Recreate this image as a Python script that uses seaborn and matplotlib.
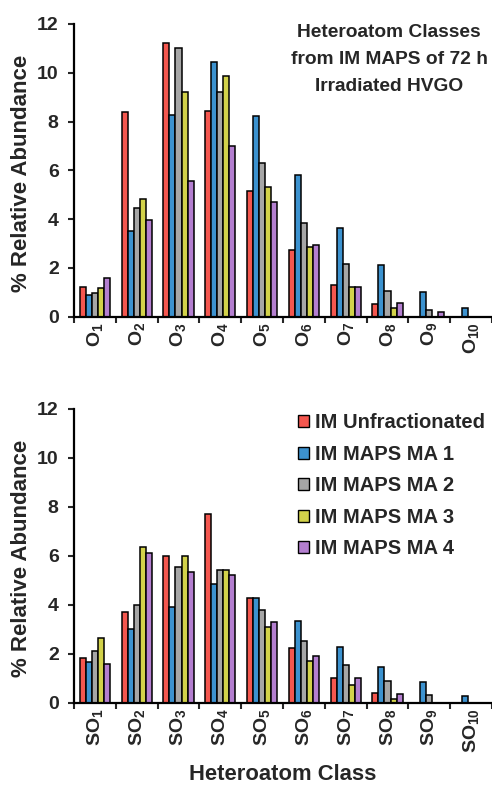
import numpy as np
import pandas as pd
import matplotlib
matplotlib.use("Agg")
import matplotlib.pyplot as plt
import seaborn as sns

# ---------------- data ----------------
series = ["IM Unfractionated", "IM MAPS MA 1", "IM MAPS MA 2", "IM MAPS MA 3", "IM MAPS MA 4"]
colors = ["#F4574F", "#3C92CF", "#A6A6A6", "#D2D24A", "#B47FD0"]

o_classes = [f"O{i}" for i in range(1, 11)]
o_labels = [r"O$_{\mathrm{%d}}$" % i for i in range(1, 11)]
o_unfrac = [1.19, 8.37, 11.24, 8.44, 5.16, 2.74, 1.28, 0.50, np.nan, np.nan]
o_ma1 = [0.90, 3.52, 8.26, 10.43, 8.22, 5.82, 3.64, 2.11, 1.02, 0.34]
o_ma2 = [0.97, 4.46, 11.02, 9.21, 6.28, 3.82, 2.17, 1.03, 0.28, np.nan]
o_ma3 = [1.17, 4.83, 9.21, 9.85, 5.32, 2.87, 1.20, 0.34, np.nan, np.nan]
o_ma4 = [1.56, 3.96, 5.54, 7.00, 4.69, 2.94, 1.19, 0.54, 0.18, np.nan]

so_classes = [f"SO{i}" for i in range(1, 11)]
so_labels = [r"SO$_{\mathrm{%d}}$" % i for i in range(1, 11)]
so_unfrac = [1.81, 3.69, 5.97, 7.71, 4.26, 2.22, 1.01, 0.41, np.nan, np.nan]
so_ma1 = [1.67, 2.99, 3.92, 4.84, 4.29, 3.32, 2.27, 1.46, 0.83, 0.29]
so_ma2 = [2.10, 3.99, 5.54, 5.43, 3.77, 2.50, 1.54, 0.87, 0.30, np.nan]
so_ma3 = [2.64, 6.35, 5.97, 5.43, 3.10, 1.70, 0.71, 0.16, np.nan, np.nan]
so_ma4 = [1.59, 6.11, 5.32, 5.22, 3.29, 1.92, 1.01, 0.37, np.nan, np.nan]

title_text = "Heteroatom Classes\nfrom IM MAPS of 72 h\nIrradiated HVGO"
ylabel_text = "% Relative Abundance"
xlabel_text = "Heteroatom Class"
yticks = [0, 2, 4, 6, 8, 10, 12]


def long_df(classes, vals):
    rows = []
    for s, v in zip(series, vals):
        for c, x in zip(classes, v):
            if not np.isnan(x):
                rows.append({"cls": c, "series": s, "value": x})
    return pd.DataFrame(rows)


df_o = long_df(o_classes, [o_unfrac, o_ma1, o_ma2, o_ma3, o_ma4])
df_so = long_df(so_classes, [so_unfrac, so_ma1, so_ma2, so_ma3, so_ma4])

# ---------------- style ----------------
sns.set_style("white")
plt.rcParams["font.family"] = ["Liberation Sans", "DejaVu Sans"]
plt.rcParams["font.weight"] = "bold"
plt.rcParams["mathtext.fontset"] = "custom"
plt.rcParams["mathtext.rm"] = "Liberation Sans"
plt.rcParams["mathtext.it"] = "Liberation Sans:italic"
plt.rcParams["mathtext.bf"] = "Liberation Sans:bold"

fig = plt.figure(figsize=(4.92, 7.85), dpi=100)
W, H = 492, 785
ax1 = fig.add_axes([74 / W, 1 - 316.5 / H, 1 - 74 / W, (316.5 - 24) / H])
ax2 = fig.add_axes([74 / W, 1 - 702.7 / H, 1 - 74 / W, (702.7 - 408.7) / H])


def draw(ax, df, classes, labels, legend):
    sns.barplot(data=df, x="cls", y="value", hue="series", order=classes,
                hue_order=series, palette=colors, width=0.72, gap=0,
                edgecolor="black", linewidth=1.1, saturation=1,
                errorbar=None, legend=legend, ax=ax)
    ax.set_xlim(-0.5, 9.5)
    ax.set_ylim(0, 12)
    ax.set_yticks(yticks)
    ax.set_yticklabels([str(t) for t in yticks], fontsize=14, fontweight="bold")
    n = len(classes)
    ax.set_xticks(np.arange(n + 1) - 0.5)
    ax.set_xticklabels([])
    ax.set_xticks(np.arange(n), minor=True)
    ax.set_xticklabels(labels, minor=True, rotation=90, fontsize=14,
                       fontweight="bold", va="top", ha="center")
    ax.tick_params(axis="x", which="major", direction="out", length=4, width=1.5,
                   bottom=True)
    ax.tick_params(axis="x", which="minor", length=0, pad=4)
    ax.tick_params(axis="y", direction="out", length=4, width=1.5, left=True, pad=7)
    for s in ["top", "right"]:
        ax.spines[s].set_visible(False)
    for s in ["left", "bottom"]:
        ax.spines[s].set_linewidth(1.6)
        ax.spines[s].set_color("black")
    ax.set_xlabel("")
    ax.set_ylabel(ylabel_text, fontsize=16, fontweight="bold", va="center")
    ax.yaxis.set_label_coords(-(74 - 22) / 418, 0.49)


draw(ax1, df_o, o_classes, o_labels, False)
draw(ax2, df_so, so_classes, so_labels, True)

ax1.text(389 / W, 1 - 24 / H, title_text, transform=fig.transFigure,
         ha="center", va="top", fontsize=13.8, fontweight="bold", linespacing=1.78)

leg = ax2.legend(loc="upper right", bbox_to_anchor=(1.012, 1.025), frameon=False,
                 prop={"size": 14.5, "weight": "bold"}, handlelength=0.55,
                 handleheight=0.55, handletextpad=0.3, labelspacing=0.62,
                 borderaxespad=0.2)
for h in leg.legend_handles:
    h.set_edgecolor("black")
    h.set_linewidth(1.0)

fig.text(283 / W, 1 - 775 / H, xlabel_text, ha="center", va="center",
         fontsize=15.8, fontweight="bold")

fig.savefig("out.png", dpi=100)
